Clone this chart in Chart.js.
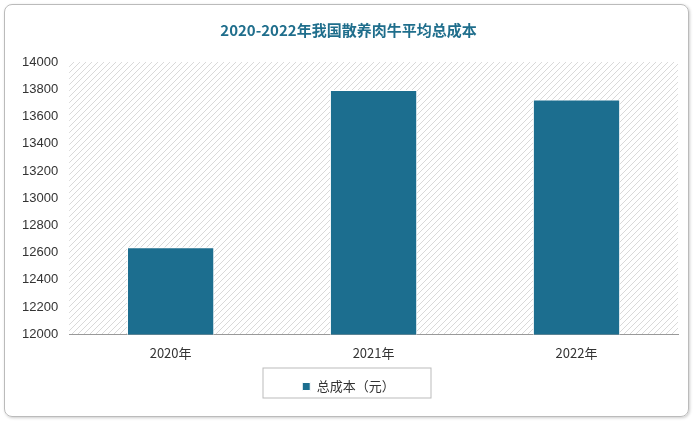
<!DOCTYPE html>
<html>
<head>
<script src="https://cdn.jsdelivr.net/npm/chart.js"></script>
<style>
body{margin:0;background:#fff;}
#wrap{position:absolute;left:4px;top:4px;width:683px;height:411px;border:1px solid #bbb;border-radius:8px;box-shadow:1px 1px 3px #ccc;}
</style>
</head>
<body>
<div id="wrap"><canvas id="c" width="683" height="411"></canvas></div>
<script>
const years = ['2020年', '2021年', '2022年'];
const totalCost = [12640, 13795, 13725];
const yTicks = [12000, 14000, 200];

// hatch pattern for the plot area
const pc = document.createElement('canvas');
pc.width = 6; pc.height = 6;
const p = pc.getContext('2d');
p.strokeStyle = '#d9d9d9'; p.lineWidth = 1;
p.beginPath(); p.moveTo(0, 6); p.lineTo(6, 0); p.moveTo(-1, 1); p.lineTo(1, -1); p.moveTo(5, 7); p.lineTo(7, 5); p.stroke();

const hatch = {
    id: 'hatch',
    beforeDraw(chart) {
        const a = chart.chartArea, ctx = chart.ctx;
        ctx.save();
        ctx.fillStyle = ctx.createPattern(pc, 'repeat');
        ctx.fillRect(a.left, a.top, a.right - a.left, a.bottom - a.top);
        ctx.restore();
    },
    afterDraw(chart) {
        // legend box border
        const l = chart.legend, ctx = chart.ctx;
        ctx.save();
        ctx.strokeStyle = '#bbb';
        ctx.strokeRect(258, l.top + 4, 168, 30);
        ctx.restore();
    }
};

new Chart(document.getElementById('c'), {
    type: 'bar',
    data: {
        labels: years,
        datasets: [{
            label: '总成本（元）',
            data: totalCost,
            backgroundColor: '#1c6e8f',
            borderColor: '#ffffff',
            borderWidth: 1,
            categoryPercentage: 1,
            barPercentage: 0.43
        }]
    },
    options: {
        responsive: false,
        animation: false,
        layout: {padding: {left: 14, right: 10, top: 0, bottom: 13}},
        plugins: {
            title: {display: true, text: '2020-2022年我国散养肉牛平均总成本', color: '#1f6e8c',
                font: {size: 15, weight: 'bold', family: 'Noto Sans CJK SC'}, padding: {top: 16, bottom: 23}},
            legend: {position: 'bottom', labels: {boxWidth: 8, boxHeight: 8, color: '#333',
                font: {size: 13, family: 'Noto Sans CJK SC'}, padding: 16}},
            tooltip: {enabled: false}
        },
        scales: {
            x: {grid: {display: false}, border: {color: '#999'},
                ticks: {color: '#333', font: {size: 13, family: 'Noto Sans CJK SC'}}},
            y: {min: yTicks[0], max: yTicks[1], grid: {display: false}, border: {display: false},
                ticks: {stepSize: yTicks[2], color: '#333', font: {size: 13, family: 'Liberation Sans'},
                    callback: v => String(v)}}
        }
    },
    plugins: [hatch]
});
</script>
</body>
</html>
